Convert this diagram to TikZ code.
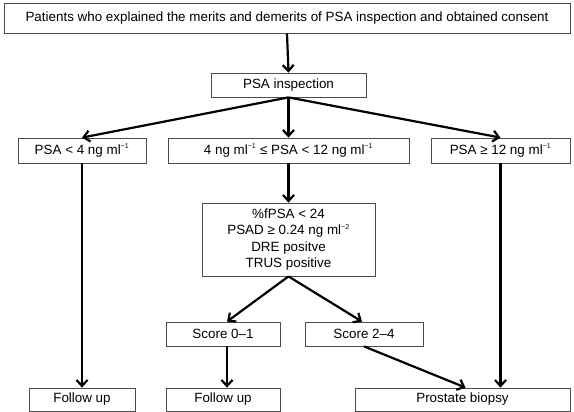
\documentclass[tikz,border=0pt]{standalone}
\usepackage{fontspec}
\setmainfont{Liberation Sans}
\usetikzlibrary{arrows.meta}
\begin{document}
\begin{tikzpicture}[x=1pt,y=-1pt,
  box/.style={draw=black!70, line width=0.8pt, fill=white, inner sep=0pt, align=center,
    font=\fontsize{13.4}{16.3}\selectfont},
  arr/.style={line width=2.2pt, -{Straight Barb[length=6pt,width=11pt,line width=2.2pt]}}]
\useasboundingbox (0,0) rectangle (574,412);
\newcommand{\sm}{\textsuperscript{\scriptsize −1}}
\node[box, minimum width=566, minimum height=30] (top) at (287,18) {Patients who explained the merits and demerits of PSA inspection and obtained consent};
\node[box, minimum width=155, minimum height=24] (insp) at (288.5,85) {PSA inspection};
\node[box, minimum width=128, minimum height=25] (low) at (82,150.5) {PSA < 4 ng ml\sm};
\node[box, minimum width=241, minimum height=25] (mid) at (288.5,150.5) {4 ng ml\sm{} ≤ PSA < 12 ng ml\sm};
\node[box, minimum width=139, minimum height=25] (high) at (500.5,150.5) {PSA ≥ 12 ng ml\sm};
\node[box, minimum width=173, minimum height=73] (crit) at (288.5,239.5) {\%fPSA < 24\\PSAD ≥ 0.24 ng ml\textsuperscript{\scriptsize −2}\\DRE positve\\TRUS positive};
\node[box, minimum width=114, minimum height=24] (s01) at (223,334) {Score 0–1};
\node[box, minimum width=118, minimum height=24] (s24) at (364,334) {Score 2–4};
\node[box, minimum width=106, minimum height=23] (fu1) at (82,399.5) {Follow up};
\node[box, minimum width=114, minimum height=23] (fu2) at (223,399.5) {Follow up};
\node[box, minimum width=215, minimum height=23] (bio) at (462.5,399.5) {Prostate biopsy};
\draw[arr] (top.south) -- (insp.north);
\draw[arr] (insp.south) -- (low.north);
\draw[arr] (insp.south) -- (mid.north);
\draw[arr] (insp.south) -- (high.north);
\draw[arr] (low.south) -- (fu1.north);
\draw[arr] (mid.south) -- (crit.north);
\draw[arr] (crit.south) -- ([xshift=4pt]s01.north);
\draw[arr] (crit.south) -- ([xshift=-2pt]s24.north);
\draw[arr] ([xshift=4pt]s01.south) -- ([xshift=4pt]fu2.north);
\draw[arr] (s24.south) -- ([xshift=3pt]bio.north);
\draw[arr] (high.south) -- (high.south |- bio.north);
\end{tikzpicture}
\end{document}
